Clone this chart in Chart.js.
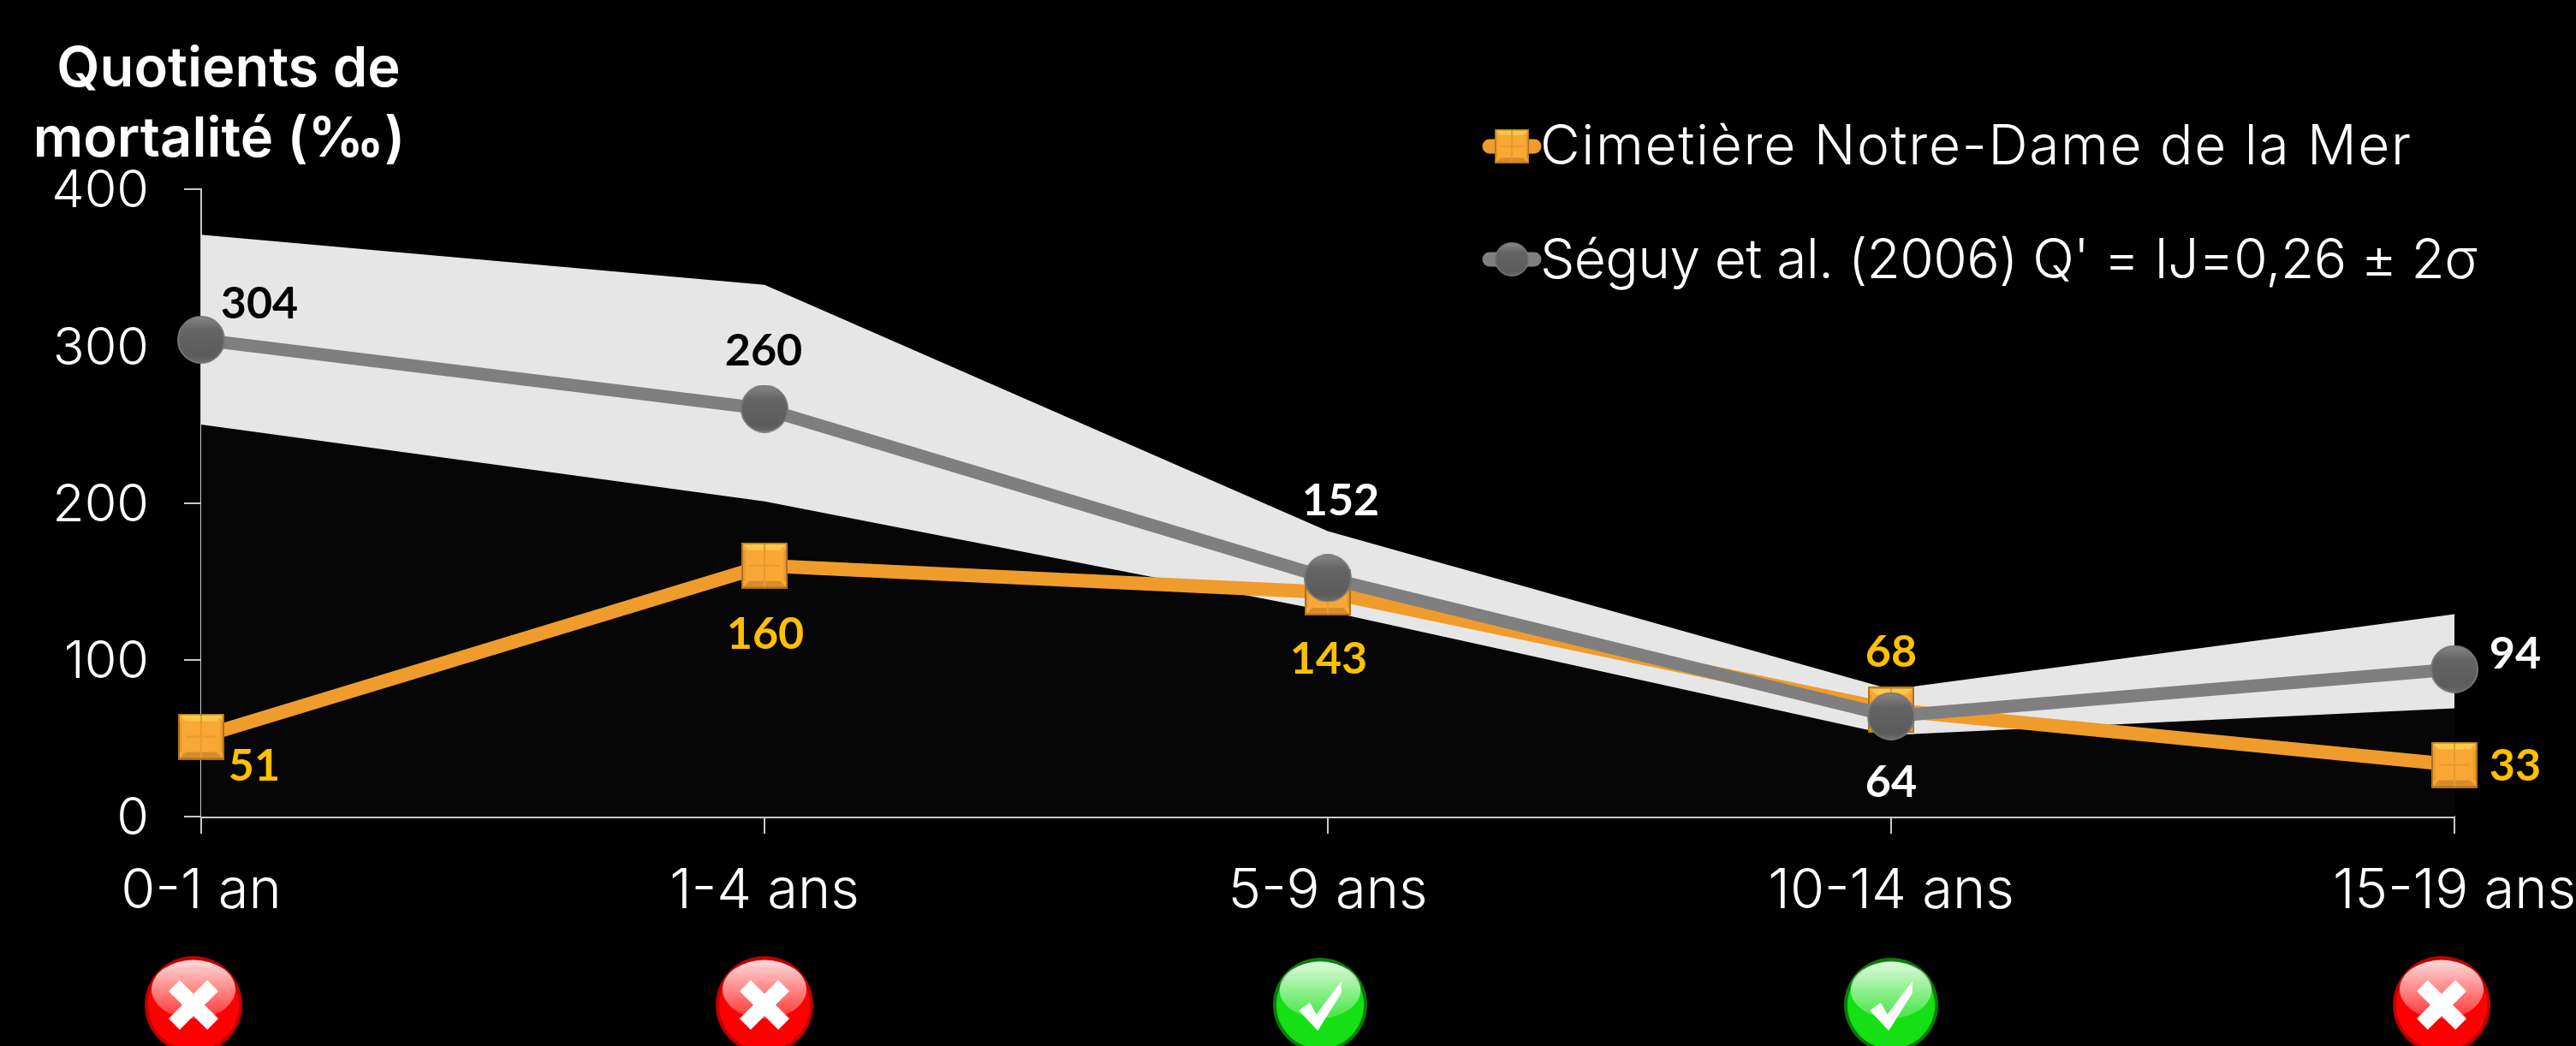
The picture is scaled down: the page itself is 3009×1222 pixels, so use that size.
<!DOCTYPE html>
<html>
<head>
<meta charset="utf-8">
<style>
  html, body { margin: 0; padding: 0; background: #000; overflow: hidden; }
  canvas { display: block; }
</style>
<script src="https://cdn.jsdelivr.net/npm/chart.js@4"></script>
</head>
<body>
<canvas id="chart" width="3009" height="1222"></canvas>
<script>
const categories = ["0-1 an", "1-4 ans", "5-9 ans", "10-14 ans", "15-19 ans"];
const cimetiere = [51, 160, 143, 68, 33];
const seguy = [304, 260, 152, 64, 94];
const seguyHigh = [371, 339, 182, 81, 129];
const seguyLow = [250, 201, 131, 52, 69];
const validated = [false, false, true, true, false];
const yTicks = [0, 100, 200, 300, 400];
const titleLines = ["Quotients de", "mortalité (‰)"];
const cimetiereName = "Cimetière Notre-Dame de la Mer";
const seguyName = "Séguy et al. (2006) Q' = IJ=0,26 ± 2σ";

const FONT = "Inter";
const LABEL_FONT = "Lato";
const ORANGE = "#f09c2c";
const GREY = "#7f7f7f";

function squareMarker(size) {
    const c = document.createElement("canvas");
    c.width = size; c.height = size;
    const g = c.getContext("2d");
    const b = Math.round(size * 0.16);
    g.fillStyle = "#f9a835";
    g.fillRect(0, 0, size, size);
    g.fillStyle = "#ffc648";
    g.beginPath(); g.moveTo(0, 0); g.lineTo(size, 0); g.lineTo(size - b, b); g.lineTo(b, b); g.fill();
    g.fillStyle = "#d98c2a";
    g.beginPath(); g.moveTo(0, size); g.lineTo(size, size); g.lineTo(size - b, size - b); g.lineTo(b, size - b); g.fill();
    g.fillStyle = "#e89a2e";
    g.fillRect(0, b, b / 2, size - 2 * b);
    g.fillRect(size - b / 2, b, b / 2, size - 2 * b);
    g.fillRect(size / 2 - 1, 0, 2, size);
    g.fillRect(b, size / 2 - 1, size - 2 * b, 2);
    g.strokeStyle = "rgba(150,95,20,0.7)";
    g.lineWidth = 2;
    g.strokeRect(1, 1, size - 2, size - 2);
    return c;
}

function roundMarker(size) {
    const c = document.createElement("canvas");
    c.width = size; c.height = size;
    const g = c.getContext("2d");
    const r = size / 2;
    const grad = g.createLinearGradient(0, 0, 0, size);
    grad.addColorStop(0, "#8a8a8a");
    grad.addColorStop(0.3, "#646464");
    grad.addColorStop(0.85, "#5c5c5c");
    grad.addColorStop(1, "#6e6e6e");
    g.fillStyle = grad;
    g.beginPath(); g.arc(r, r, r - 1, 0, Math.PI * 2); g.fill();
    g.strokeStyle = "#777";
    g.lineWidth = 2;
    g.stroke();
    return c;
}

function drawLegendKey(ctx, x, y, color, marker) {
    ctx.save();
    ctx.strokeStyle = color;
    ctx.lineWidth = 17;
    ctx.lineCap = "round";
    ctx.beginPath(); ctx.moveTo(x + 8, y); ctx.lineTo(x + 60, y); ctx.stroke();
    ctx.drawImage(marker, x + 14, y - 20, 40, 40);
    ctx.restore();
}

function drawIcon(ctx, cx, cy, r, ok) {
    const dark = ok ? "#0c7a0c" : "#c00000";
    const main = ok ? "#14e014" : "#ff0000";
    ctx.save();
    ctx.fillStyle = dark;
    ctx.beginPath(); ctx.arc(cx, cy, r, 0, Math.PI * 2); ctx.fill();
    ctx.fillStyle = main;
    ctx.beginPath(); ctx.arc(cx, cy, r * 0.93, 0, Math.PI * 2); ctx.fill();
    const gloss = ctx.createLinearGradient(0, cy - r, 0, cy + r * 0.2);
    gloss.addColorStop(0, "rgba(255,255,255,0.9)");
    gloss.addColorStop(1, "rgba(255,255,255,0.25)");
    ctx.fillStyle = gloss;
    ctx.beginPath(); ctx.ellipse(cx, cy - r * 0.32, r * 0.86, r * 0.6, 0, 0, Math.PI * 2); ctx.fill();
    ctx.fillStyle = "#fff";
    ctx.translate(cx, cy);
    if (ok) {
        ctx.beginPath();
        ctx.moveTo(-r * 0.45, r * 0.12); ctx.lineTo(-r * 0.22, -r * 0.05); ctx.lineTo(-r * 0.08, r * 0.2);
        ctx.lineTo(r * 0.45, -r * 0.5); ctx.lineTo(r * 0.45, -r * 0.25); ctx.lineTo(-r * 0.05, r * 0.55);
        ctx.closePath(); ctx.fill();
    } else {
        ctx.rotate(Math.PI / 4);
        ctx.fillRect(-r * 0.56, -r * 0.16, r * 1.12, r * 0.32);
        ctx.fillRect(-r * 0.16, -r * 0.56, r * 0.32, r * 1.12);
    }
    ctx.restore();
}

const squareImg = squareMarker(54);
const roundImg = roundMarker(56);

// label offsets from their point, each one placed by hand in the original slide
const labelOffsets = {
    cimetiere: [[62, 35, "#ffc000"], [1, 80, "#ffc000"], [1, 78, "#ffc000"], [0, -67, "#ffc000"], [71, 2, "#ffc000"]],
    seguy: [[68, -42, "#000"], [-1, -67, "#000"], [15, -90, "#fff"], [0, 78, "#fff"], [71, -18, "#fff"]]
};
const iconShift = [-9, 0, -9, 0, -15];

const slideExtras = {
    id: "slideExtras",
    afterDatasetsDraw(chart) {
        const ctx = chart.ctx;
        ctx.save();
        ctx.textAlign = "center";
        ctx.textBaseline = "middle";
        ctx.font = "bold 52px " + LABEL_FONT;
        chart.data.datasets.forEach(function (ds, i) {
            const offs = labelOffsets[ds.key];
            if (!offs) return;
            chart.getDatasetMeta(i).data.forEach(function (pt, j) {
                ctx.fillStyle = offs[j][2];
                ctx.fillText(ds.data[j], pt.x + offs[j][0], pt.y + offs[j][1]);
            });
        });

        ctx.fillStyle = "#fff";
        ctx.font = "600 65px " + FONT;
        ctx.fillText(titleLines[0], 267, 81);
        ctx.fillText(titleLines[1], 256, 163);

        ctx.textAlign = "left";
        ctx.font = "300 64px " + FONT;
        drawLegendKey(ctx, 1732, 171, ORANGE, squareImg);
        ctx.fillStyle = "#fff";
        ctx.letterSpacing = "1.7px";
        ctx.fillText(cimetiereName, 1799, 173);
        drawLegendKey(ctx, 1732, 303, GREY, roundImg);
        ctx.fillStyle = "#fff";
        ctx.letterSpacing = "-0.6px";
        ctx.fillText(seguyName, 1799, 306);
        ctx.letterSpacing = "0px";

        const xs = chart.scales.x;
        validated.forEach(function (ok, i) {
            drawIcon(ctx, xs.getPixelForValue(i) + iconShift[i], 1174, ok ? 55 : 57, ok);
        });
        ctx.restore();
    }
};

new Chart(document.getElementById("chart"), {
    type: "line",
    data: {
        labels: categories,
        datasets: [
            { key: "seguy", label: seguyName, data: seguy, order: 1, borderColor: GREY, borderWidth: 15,
              pointStyle: roundImg, pointRadius: 28, fill: false, clip: false },
            { key: "cimetiere", label: cimetiereName, data: cimetiere, order: 2, borderColor: ORANGE, borderWidth: 16,
              pointStyle: squareImg, pointRadius: 27, fill: false, clip: false },
            { label: "+2σ", data: seguyHigh, order: 3, borderWidth: 0, pointRadius: 0,
              fill: { target: "+1" }, backgroundColor: "#e6e6e6" },
            { label: "-2σ", data: seguyLow, order: 4, borderWidth: 0, pointRadius: 0,
              fill: "origin", backgroundColor: "#060606" }
        ]
    },
    options: {
        responsive: false,
        animation: false,
        devicePixelRatio: 1,
        layout: { padding: { left: 0, right: 0, top: 221, bottom: 0 } },
        plugins: { legend: { display: false }, title: { display: false }, tooltip: { enabled: false } },
        elements: { line: { tension: 0, borderCapStyle: "butt", borderJoinStyle: "miter" } },
        scales: {
            x: {
                offset: false,
                afterFit(scale) { scale.height = 268; scale.paddingRight = 142; },
                border: { color: "#c8c8c8", width: 3 },
                grid: { drawOnChartArea: false, color: "#c8c8c8", lineWidth: 2, tickLength: 20 },
                ticks: { color: "#fff", padding: 28, maxRotation: 0, autoSkip: false, font: { family: FONT, size: 65, weight: "300" } }
            },
            y: {
                min: 0,
                max: 400,
                afterFit(scale) { scale.width = 235; },
                afterBuildTicks(scale) { scale.ticks = yTicks.map(function (v) { return { value: v }; }); },
                border: { color: "#c8c8c8", width: 2 },
                grid: { drawOnChartArea: false, color: "#c8c8c8", lineWidth: 2, tickLength: 20 },
                ticks: { color: "#fff", padding: 41, labelOffset: 3, font: { family: FONT, size: 61, weight: "300" } }
            }
        }
    },
    plugins: [slideExtras]
});
</script>
</body>
</html>
